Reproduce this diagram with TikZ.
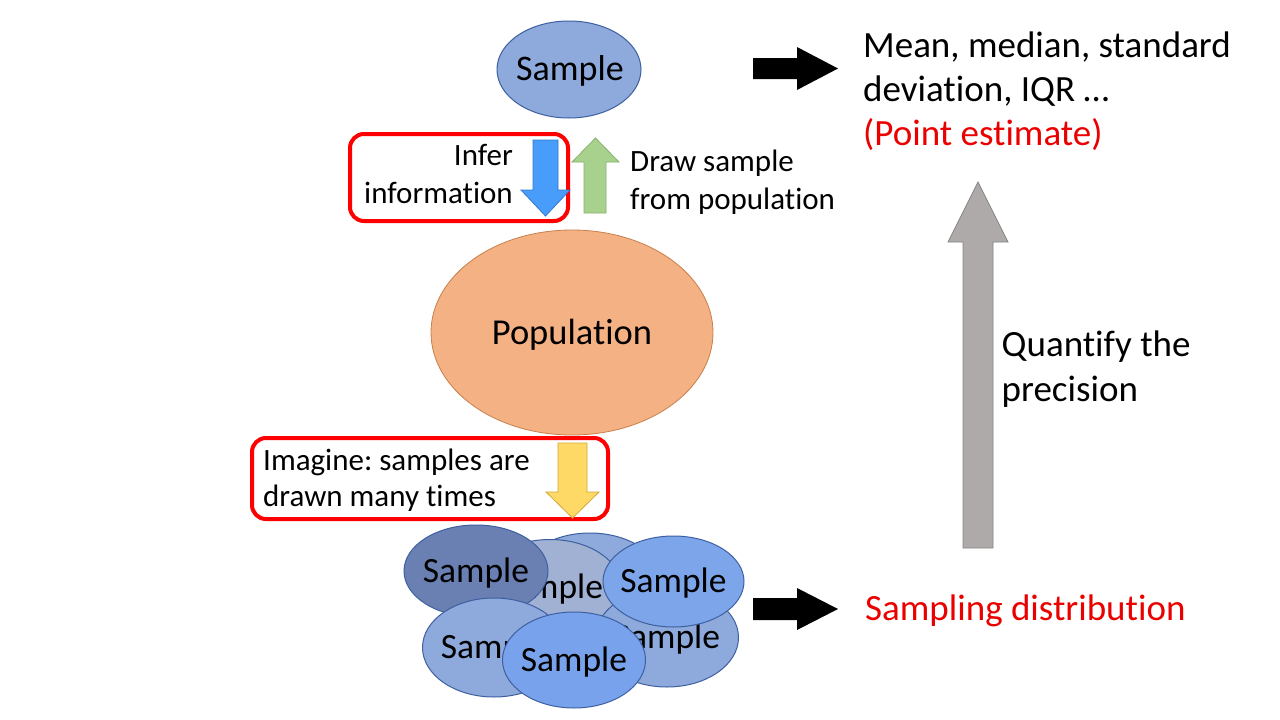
\documentclass[tikz,border=0pt]{standalone}
\usepackage{fontspec}
\setmainfont{Carlito}[Ligatures=NoCommon]
\usetikzlibrary{shapes.geometric}
\frenchspacing

% palette
\definecolor{smpA}{RGB}{142,169,219}
\definecolor{smpEdge}{RGB}{62,96,160}
\definecolor{smpGrey}{RGB}{160,177,212}
\definecolor{smpDark}{RGB}{106,127,178}
\definecolor{smpBright}{RGB}{124,165,234}
\definecolor{smpFront}{RGB}{120,163,236}
\definecolor{popFill}{RGB}{244,177,131}
\definecolor{popEdge}{RGB}{200,128,75}
\definecolor{blueFill}{RGB}{72,157,250}
\definecolor{blueEdge}{RGB}{50,120,205}
\definecolor{greenFill}{RGB}{169,209,142}
\definecolor{greenEdge}{RGB}{134,178,106}
\definecolor{yellowFill}{RGB}{255,217,102}
\definecolor{yellowEdge}{RGB}{207,169,58}
\definecolor{greyFill}{RGB}{174,170,170}
\definecolor{greyEdge}{RGB}{133,133,133}
\definecolor{hiRed}{RGB}{255,0,0}
\definecolor{txtRed}{RGB}{235,0,0}

\tikzset{
  smp/.style={ellipse, draw=smpEdge, line width=1pt, inner sep=0pt,
              minimum width=143pt, minimum height=96pt},
  smptxt/.style={anchor=base, inner sep=0pt, font=\fontsize{35.5}{42}\selectfont},
  bigtxt/.style={anchor=base west, inner sep=0pt, font=\fontsize{37}{44}\selectfont},
  midtxt/.style={anchor=base west, inner sep=0pt, font=\fontsize{31}{37}\selectfont},
  redbox/.style={draw=hiRed, line width=4pt, rounded corners=14pt, inner sep=0pt},
  blockarrow/.style={line width=0.8pt, line join=miter},
}

\begin{document}
\begin{tikzpicture}[x=1pt,y=-1pt]
\useasboundingbox[fill=white] (0,0) rectangle (1280,720);

% ---- single sample and population ----
\node[smp, fill=smpA, minimum width=144pt, minimum height=97pt] (sample) at (569,69.5) {};
\node[smptxt, font=\fontsize{36}{43}\selectfont] (sampletxt) at (570,80) {Sample};

\node[ellipse, draw=popEdge, fill=popFill, line width=0.8pt, inner sep=0pt,
      minimum width=282pt, minimum height=205pt] (pop) at (572,332.5) {};
\node[smptxt, font=\fontsize{36.5}{43}\selectfont] (poptxt) at (572,344) {Population};

% ---- highlighted caption boxes ----
\node[redbox, minimum width=218pt, minimum height=87pt] (inferbox) at (459,177.5) {};
\node[redbox, minimum width=356pt, minimum height=81pt] (imaginebox) at (430,478.5) {};

% ---- block arrows between sample and population ----
\filldraw[blockarrow, fill=blueFill, draw=blueEdge]
  (533,140) -- (558,140) -- (558,190) -- (570,190) -- (545.5,216) -- (521,190) -- (533,190) -- cycle;
\filldraw[blockarrow, fill=greenFill, draw=greenEdge]
  (584,213) -- (584,162) -- (572,162) -- (595.5,138) -- (619,162) -- (606,162) -- (606,213) -- cycle;
\filldraw[blockarrow, fill=yellowFill, draw=yellowEdge]
  (558,443) -- (587,443) -- (587,492) -- (599,492) -- (572.5,518) -- (546,492) -- (558,492) -- cycle;

% ---- captions ----
\node[midtxt, anchor=base east] (infer1) at (513,165.7) {Infer};
\node[midtxt, anchor=base east] (infer2) at (513,203.3) {information};
\node[midtxt] (draw1) at (630,171.5) {Draw sample};
\node[midtxt] (draw2) at (630,209.3) {from population};
\node[midtxt] (imag1) at (263,470) {Imagine: samples are};
\node[midtxt] (imag2) at (263,506) {drawn many times};

% ---- many samples ----
\node[smp, fill=smpA] (mb) at (590,581) {};
\node[smptxt] at (590,592) {Sample};
\node[smp, fill=smpGrey] (mg) at (550,587.5) {};
\node[smptxt] at (550,598.5) {Sample};
\node[smp, fill=smpDark, minimum width=144pt, minimum height=92pt] (md) at (476,571) {};
\node[smptxt] at (476,582.5) {Sample};
\node[smp, fill=smpA, minimum height=99pt] (mrb) at (667,637.5) {};
\node[smptxt] at (667,648.5) {Sample};
\node[smp, fill=smpBright, minimum width=141pt, minimum height=91pt] (mrt) at (673.5,581.5) {};
\node[smptxt] at (673.5,592.5) {Sample};
\node[smp, fill=smpA, minimum height=99pt] (mlb) at (494,647.5) {};
\node[smptxt] at (494,658.5) {Sample};
\node[smp, fill=smpFront] (mf) at (574,660) {};
\node[smptxt] at (574,671) {Sample};

% ---- right column ----
\fill (753,58) -- (797,58) -- (797,47) -- (838,68.5) -- (797,90) -- (797,79) -- (753,79) -- cycle;
\fill (753,598) -- (797,598) -- (797,588) -- (838,609) -- (797,630) -- (797,620) -- (753,620) -- cycle;

\node[bigtxt] (est1) at (863,57.3) {Mean, median, standard};
\node[bigtxt] (est2) at (863,101.7) {deviation, IQR …};
\node[bigtxt, text=txtRed] (est3) at (863,145) {(Point estimate)};

\filldraw[blockarrow, fill=greyFill, draw=greyEdge]
  (963,548) -- (963,242) -- (948,242) -- (978,182) -- (1008,242) -- (993,242) -- (993,548) -- cycle;

\node[bigtxt] (prec1) at (1001.5,356) {Quantify the};
\node[bigtxt] (prec2) at (1001.5,401.7) {precision};
\node[bigtxt, text=txtRed] (sdist) at (865,620) {Sampling distribution};
\end{tikzpicture}
\end{document}
